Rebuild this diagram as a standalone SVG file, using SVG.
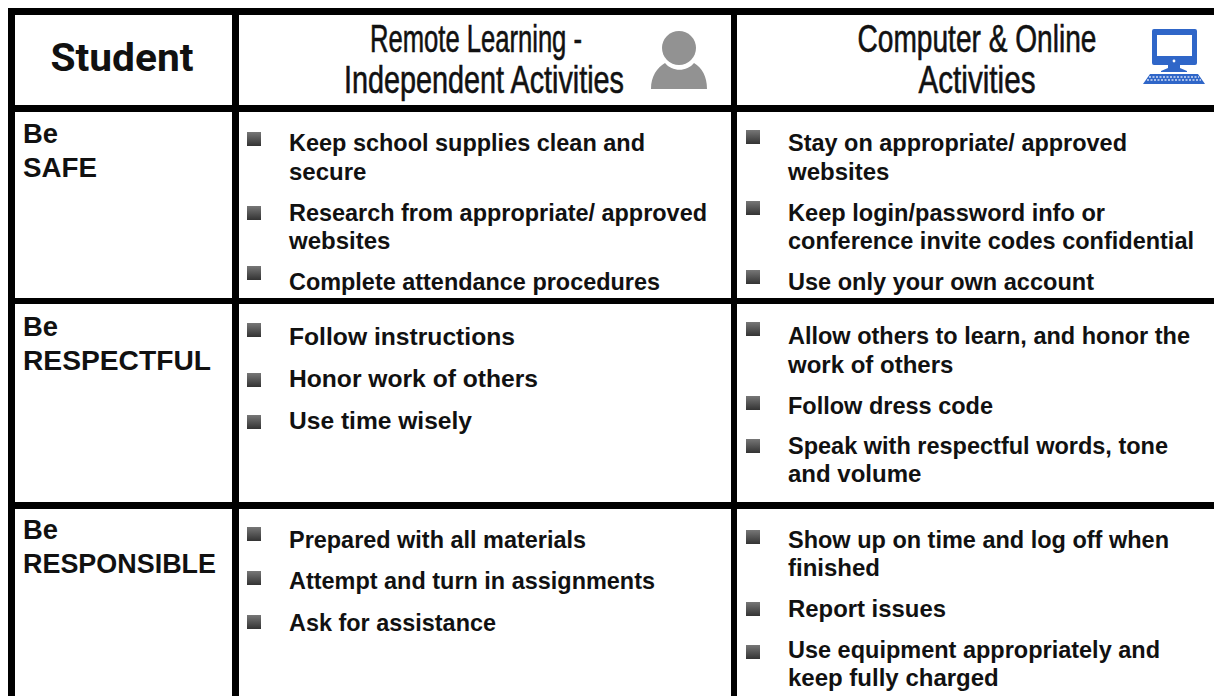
<svg xmlns="http://www.w3.org/2000/svg" width="1214" height="696" viewBox="0 0 1214 696">
<style>
.g{fill:#000}
.b{font-family:"Liberation Sans",Arial,sans-serif;font-weight:700;font-size:24px;fill:#111}
.l{font-family:"Liberation Sans",Arial,sans-serif;font-weight:700;font-size:27px;fill:#111}
.h{font-family:"Roboto",sans-serif;font-weight:700;font-size:38px;fill:#111}
.c{font-family:"Liberation Sans",Arial,sans-serif;font-size:38px;fill:#111;stroke:#111;stroke-width:.6}
.s{fill:url(#bul)}
</style>
<defs>
<linearGradient id="bul" x1="0" y1="0" x2="0" y2="1"><stop offset="0" stop-color="#777"/><stop offset="1" stop-color="#333"/></linearGradient>
<rect id="sq" width="14" height="14" class="s"/>
</defs>
<rect width="1214" height="696" fill="#fff"/>
<g id="grid" class="g">
<rect x="8" y="8" width="1206" height="7"/>
<rect x="8" y="105" width="1206" height="7"/>
<rect x="8" y="298" width="1206" height="6"/>
<rect x="8" y="502" width="1206" height="7"/>
<rect x="8" y="8" width="7" height="688"/>
<rect x="232" y="8" width="7" height="688"/>
<rect x="731" y="8" width="6" height="688"/>
</g>
<g id="header-student"><text class="h" x="122" y="71" text-anchor="middle" textLength="143" lengthAdjust="spacingAndGlyphs">Student</text></g>
<g id="header-remote">
<text class="c" x="476" y="52" text-anchor="middle" textLength="212" lengthAdjust="spacingAndGlyphs">Remote Learning -</text>
<text class="c" x="484" y="93" text-anchor="middle" textLength="280" lengthAdjust="spacingAndGlyphs">Independent Activities</text>
<circle cx="679" cy="48" r="17" fill="#929292"/>
<path d="M651 89 C651 76 657 68 665 63 C672 72 687 72 694 63 C702 68 707 76 707 89 Z" fill="#929292"/>
</g>
<g id="header-computer">
<text class="c" x="977" y="52" text-anchor="middle" textLength="239" lengthAdjust="spacingAndGlyphs">Computer &amp; Online</text>
<text class="c" x="977" y="93" text-anchor="middle" textLength="117" lengthAdjust="spacingAndGlyphs">Activities</text>
<path fill-rule="evenodd" d="M1154 29H1195Q1197 29 1197 31V63Q1197 65 1195 65H1180V68L1187 71V72H1161V71L1168 68V65H1154Q1152 65 1152 63V31Q1152 29 1154 29ZM1157 35V56H1192V35Z" fill="#2f66c8"/>
<path d="M1150 74H1198L1205 84H1143Z" fill="#2f66c8"/>
<path d="M1149 77H1199M1147 80H1201" stroke="#cfdcf5" stroke-width="1.5" stroke-dasharray="2 1.5"/>
<circle cx="1174" cy="61" r="1.4" fill="#fff"/>
</g>
<g id="row-safe">
<text class="l" x="23" y="143" textLength="35" lengthAdjust="spacingAndGlyphs">Be</text><text class="l" x="23" y="177" textLength="74" lengthAdjust="spacingAndGlyphs">SAFE</text>
<use href="#sq" x="247" y="132"/><text class="b" x="289" y="151" textLength="356" lengthAdjust="spacingAndGlyphs">Keep school supplies clean and</text><text class="b" x="289" y="180">secure</text>
<use href="#sq" x="247" y="206"/><text class="b" x="289" y="221" textLength="418" lengthAdjust="spacingAndGlyphs">Research from appropriate/ approved</text><text class="b" x="289" y="249">websites</text>
<use href="#sq" x="247" y="266"/><text class="b" x="289" y="290" textLength="371" lengthAdjust="spacingAndGlyphs">Complete attendance procedures</text>
<use href="#sq" x="746" y="130"/><text class="b" x="788" y="151" textLength="339" lengthAdjust="spacingAndGlyphs">Stay on appropriate/ approved</text><text class="b" x="788" y="180">websites</text>
<use href="#sq" x="746" y="201"/><text class="b" x="788" y="221" textLength="317" lengthAdjust="spacingAndGlyphs">Keep login/password info or</text><text class="b" x="788" y="249" textLength="406" lengthAdjust="spacingAndGlyphs">conference invite codes confidential</text>
<use href="#sq" x="746" y="270"/><text class="b" x="788" y="290" textLength="306" lengthAdjust="spacingAndGlyphs">Use only your own account</text>
</g>
<g id="row-respectful">
<text class="l" x="23" y="336" textLength="35" lengthAdjust="spacingAndGlyphs">Be</text><text class="l" x="23" y="370" textLength="188" lengthAdjust="spacingAndGlyphs">RESPECTFUL</text>
<use href="#sq" x="247" y="323"/><text class="b" x="289" y="345" textLength="226" lengthAdjust="spacingAndGlyphs">Follow instructions</text>
<use href="#sq" x="247" y="373"/><text class="b" x="289" y="387" textLength="249" lengthAdjust="spacingAndGlyphs">Honor work of others</text>
<use href="#sq" x="247" y="415"/><text class="b" x="289" y="429" textLength="183" lengthAdjust="spacingAndGlyphs">Use time wisely</text>
<use href="#sq" x="746" y="322"/><text class="b" x="788" y="344" textLength="402" lengthAdjust="spacingAndGlyphs">Allow others to learn, and honor the</text><text class="b" x="788" y="373">work of others</text>
<use href="#sq" x="746" y="396"/><text class="b" x="788" y="414" textLength="205" lengthAdjust="spacingAndGlyphs">Follow dress code</text>
<use href="#sq" x="746" y="439"/><text class="b" x="788" y="454" textLength="380" lengthAdjust="spacingAndGlyphs">Speak with respectful words, tone</text><text class="b" x="788" y="482">and volume</text>
</g>
<g id="row-responsible">
<text class="l" x="23" y="539" textLength="35" lengthAdjust="spacingAndGlyphs">Be</text><text class="l" x="23" y="573" textLength="193" lengthAdjust="spacingAndGlyphs">RESPONSIBLE</text>
<use href="#sq" x="247" y="527"/><text class="b" x="289" y="548" textLength="297" lengthAdjust="spacingAndGlyphs">Prepared with all materials</text>
<use href="#sq" x="247" y="571"/><text class="b" x="289" y="589" textLength="366" lengthAdjust="spacingAndGlyphs">Attempt and turn in assignments</text>
<use href="#sq" x="247" y="615"/><text class="b" x="289" y="631" textLength="207" lengthAdjust="spacingAndGlyphs">Ask for assistance</text>
<use href="#sq" x="746" y="530"/><text class="b" x="788" y="548" textLength="381" lengthAdjust="spacingAndGlyphs">Show up on time and log off when</text><text class="b" x="788" y="576">finished</text>
<use href="#sq" x="746" y="602"/><text class="b" x="788" y="617" textLength="158" lengthAdjust="spacingAndGlyphs">Report issues</text>
<use href="#sq" x="746" y="645"/><text class="b" x="788" y="658" textLength="372" lengthAdjust="spacingAndGlyphs">Use equipment appropriately and</text><text class="b" x="788" y="686">keep fully charged</text>
</g>
</svg>
